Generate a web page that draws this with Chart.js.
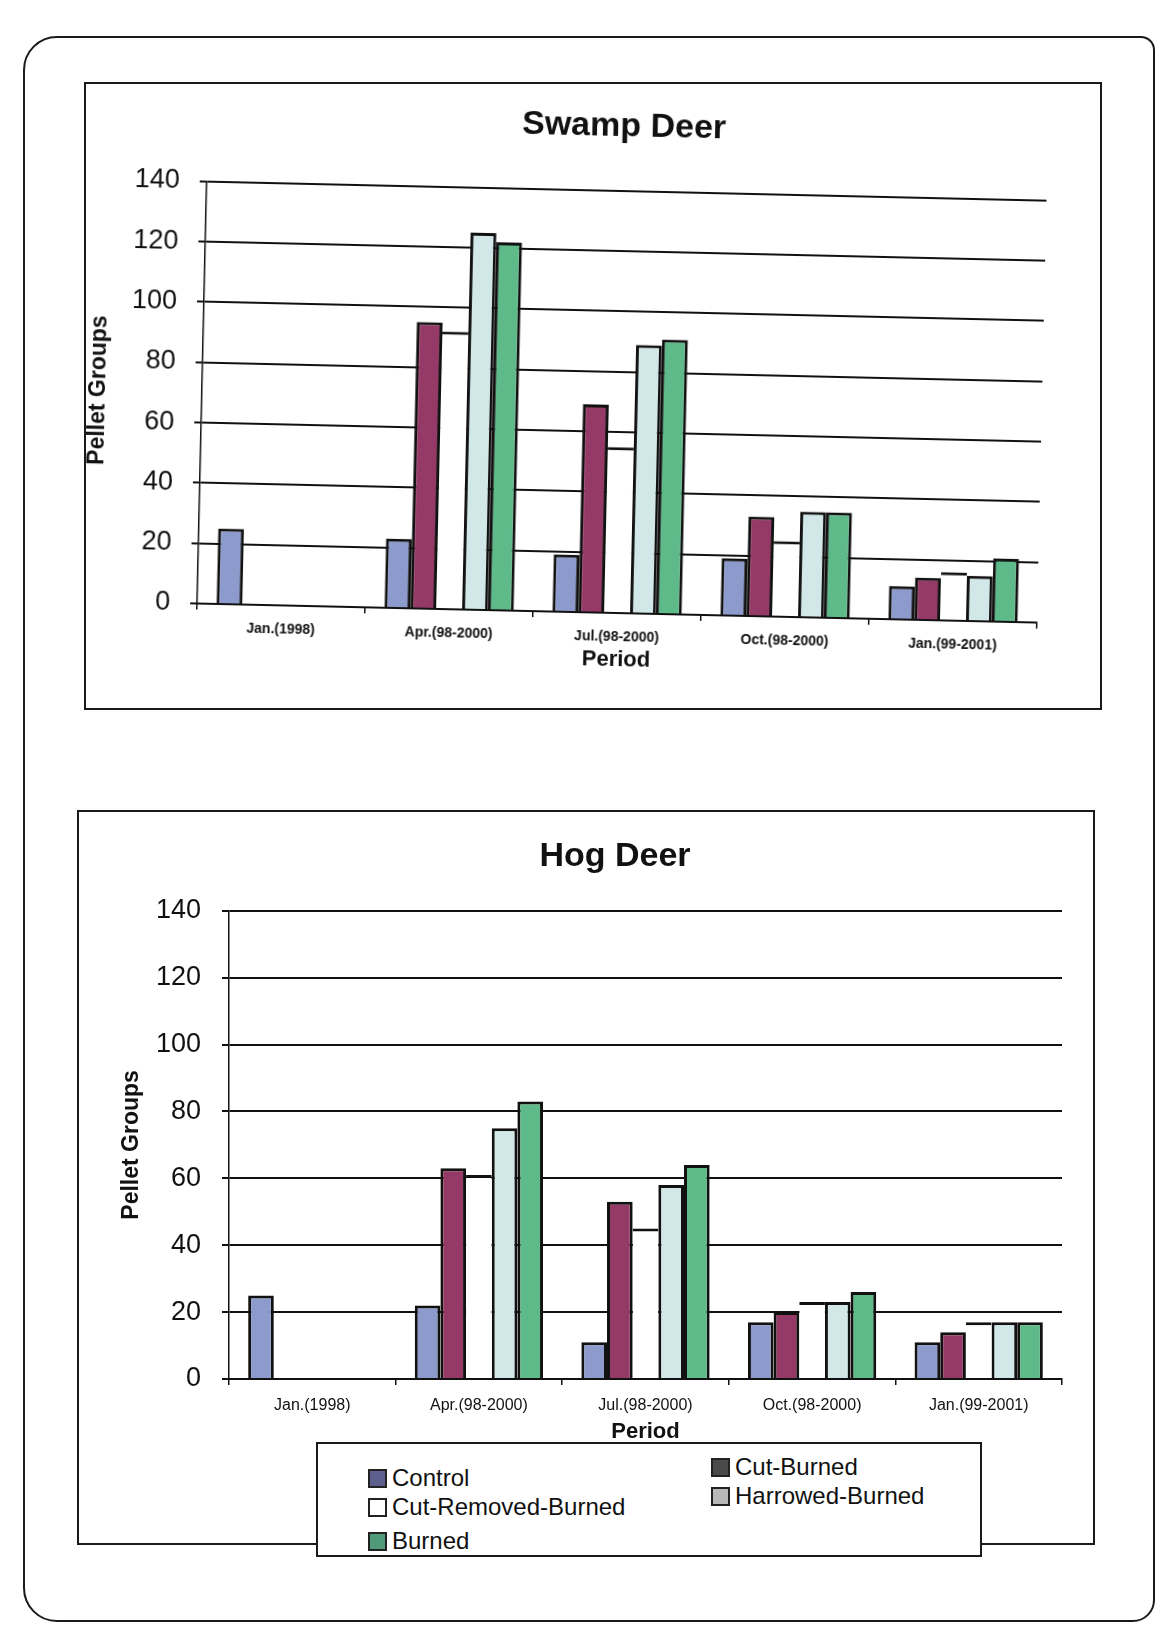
<!DOCTYPE html>
<html>
<head>
<meta charset="utf-8">
<script src="https://cdn.jsdelivr.net/npm/chart.js@4.4.1/dist/chart.umd.min.js"></script>
<style>
  body { margin: 0; width: 1158px; height: 1633px; position: relative; overflow: hidden; background: #fff; font-family: "Liberation Sans", Arial, sans-serif; }
  .page { position: absolute; left: 23px; top: 36px; width: 1132px; height: 1586px; border: 2.5px solid #1a1a1a; border-radius: 34px 14px 22px 34px; box-sizing: border-box; }
  .panel { position: absolute; border: 2px solid #1a1a1a; box-sizing: border-box; background: #fff; }
  #box1 { left: 84px; top: 82px; width: 1018px; height: 628px; }
  #box2 { left: 77px; top: 810px; width: 1018px; height: 735px; }
  canvas { position: absolute; }
  #c1 { left: 84px; top: 80px; transform: rotate(1.3deg); }
  #c2 { left: 77px; top: 810px; }
  #legend { position: absolute; left: 316px; top: 1442px; width: 666px; height: 115px; border: 2px solid #1a1a1a; box-sizing: border-box; background: #fff; font-size: 24px; color: #111; }
  .item { position: absolute; display: flex; align-items: center; height: 28px; transform: translateY(-50%); white-space: nowrap; }
  .sw { width: 15px; height: 15px; border: 2px solid #222; margin-right: 5px; }
</style>
</head>
<body>
<div class="page"></div>
<div class="panel" id="box1"></div>
<div class="panel" id="box2"></div>
<canvas id="c1" width="1068" height="630"></canvas>
<canvas id="c2" width="1076" height="735"></canvas>
<div id="legend"></div>
<script>
const periods = ['Jan.(1998)', 'Apr.(98-2000)', 'Jul.(98-2000)', 'Oct.(98-2000)', 'Jan.(99-2001)'];
const treatments = ['Control', 'Cut-Burned', 'Cut-Removed-Burned', 'Harrowed-Burned', 'Burned'];
const fills = ['#8c9acc', '#953a66', '#ffffff', '#d2e8e8', '#5fba8a'];
const swatches = ['#5d5f8e', '#4a4a4a', '#ffffff', '#b8b8b8', '#4f9a78'];
const yMax = 140;
const yStep = 20;

// Swamp Deer
const swampControl = [25, 23, 19, 19, 11];
const swampCutBurned = [null, 95, 69, 33, 14];
const swampCutRemoved = [null, 92, 55, 25, 16];
const swampHarrowed = [null, 125, 89, 35, 15];
const swampBurned = [null, 122, 91, 35, 21];

// Hog Deer
const hogControl = [25, 22, 11, 17, 11];
const hogCutBurned = [null, 63, 53, 20, 14];
const hogCutRemoved = [null, 61, 45, 23, 17];
const hogHarrowed = [null, 75, 58, 23, 17];
const hogBurned = [null, 83, 64, 26, 17];

const FONT = '"Liberation Sans", Arial, sans-serif';

function makeChart(id, title, series, o) {
    const datasets = treatments.map((name, i) => ({
        label: name,
        data: series[i],
        backgroundColor: fills[i],
        borderColor: '#111',
        borderWidth: i === 2 ? { top: 3, left: 0, right: 0, bottom: 0 } : { top: 3, left: 3, right: 3, bottom: 0 },
        categoryPercentage: 0.77,
        barPercentage: 1
    }));

    return new Chart(document.getElementById(id), {
        type: 'bar',
        data: { labels: periods, datasets },
        options: {
            responsive: false,
            animation: false,
            layout: { padding: { left: 0, right: 0, top: 0, bottom: o.padBottom } },
            plugins: {
                legend: { display: false },
                tooltip: { enabled: false },
                title: {
                    display: true, text: title, color: '#111',
                    font: { family: FONT, size: 34, weight: 'bold' },
                    padding: { top: o.titleTop, bottom: o.titleBottom }
                }
            },
            scales: {
                x: {
                    afterFit: s => { s.height = o.xHeight; },
                    grid: { drawOnChartArea: false, drawTicks: true, tickLength: 6, color: '#111', lineWidth: 1.5 },
                    border: { color: '#111', width: 2 },
                    ticks: { color: '#111', padding: o.xTickPad, maxRotation: 0, font: { family: FONT, size: o.xTickSize, weight: o.xTickWeight } },
                    title: { display: true, text: 'Period', color: '#111', font: { family: FONT, size: 22, weight: 'bold' }, padding: { top: 0, bottom: 4 } }
                },
                y: {
                    min: 0, max: yMax,
                    afterFit: s => { s.width = o.yWidth; },
                    grid: { color: '#111', lineWidth: 2, tickLength: 7 },
                    border: { color: '#111', width: 1.5 },
                    ticks: { stepSize: yStep, color: '#111', padding: o.yTickPad, font: { family: FONT, size: 27 } },
                    title: { display: true, text: 'Pellet Groups', color: '#111', font: { family: FONT, size: 23, weight: 'bold' }, padding: { top: o.yTitlePad, bottom: 0 } }
                },
                // empty right-hand margin so the title centres like the original
                yR: {
                    position: 'right',
                    afterFit: s => { s.width = o.rightGap; },
                    grid: { display: false },
                    border: { display: false },
                    ticks: { display: false }
                }
            }
        }
    });
}

makeChart('c1', 'Swamp Deer',
    [swampControl, swampCutBurned, swampCutRemoved, swampHarrowed, swampBurned],
    { rightGap: 110, padBottom: 33, titleTop: 26, titleBottom: 44, xHeight: 64, xTickPad: 10, xTickSize: 14, xTickWeight: 'bold', yWidth: 118, yTickPad: 20, yTitlePad: 1 });

makeChart('c2', 'Hog Deer',
    [hogControl, hogCutBurned, hogCutRemoved, hogHarrowed, hogBurned],
    { rightGap: 91, padBottom: 96, titleTop: 26, titleBottom: 34, xHeight: 70, xTickPad: 11, xTickSize: 16, xTickWeight: 'normal', yWidth: 152, yTickPad: 21, yTitlePad: 41 });

// legend laid out like the original two-column box
const legendSlots = [[50, 34], [393, 23], [50, 63], [393, 52], [50, 97]];
const legend = document.getElementById('legend');
treatments.forEach((name, i) => {
    const el = document.createElement('div');
    el.className = 'item';
    el.style.left = legendSlots[i][0] + 'px';
    el.style.top = legendSlots[i][1] + 'px';
    el.innerHTML = '<span class="sw" style="background:' + swatches[i] + '"></span>' + name;
    legend.appendChild(el);
});
</script>
</body>
</html>
